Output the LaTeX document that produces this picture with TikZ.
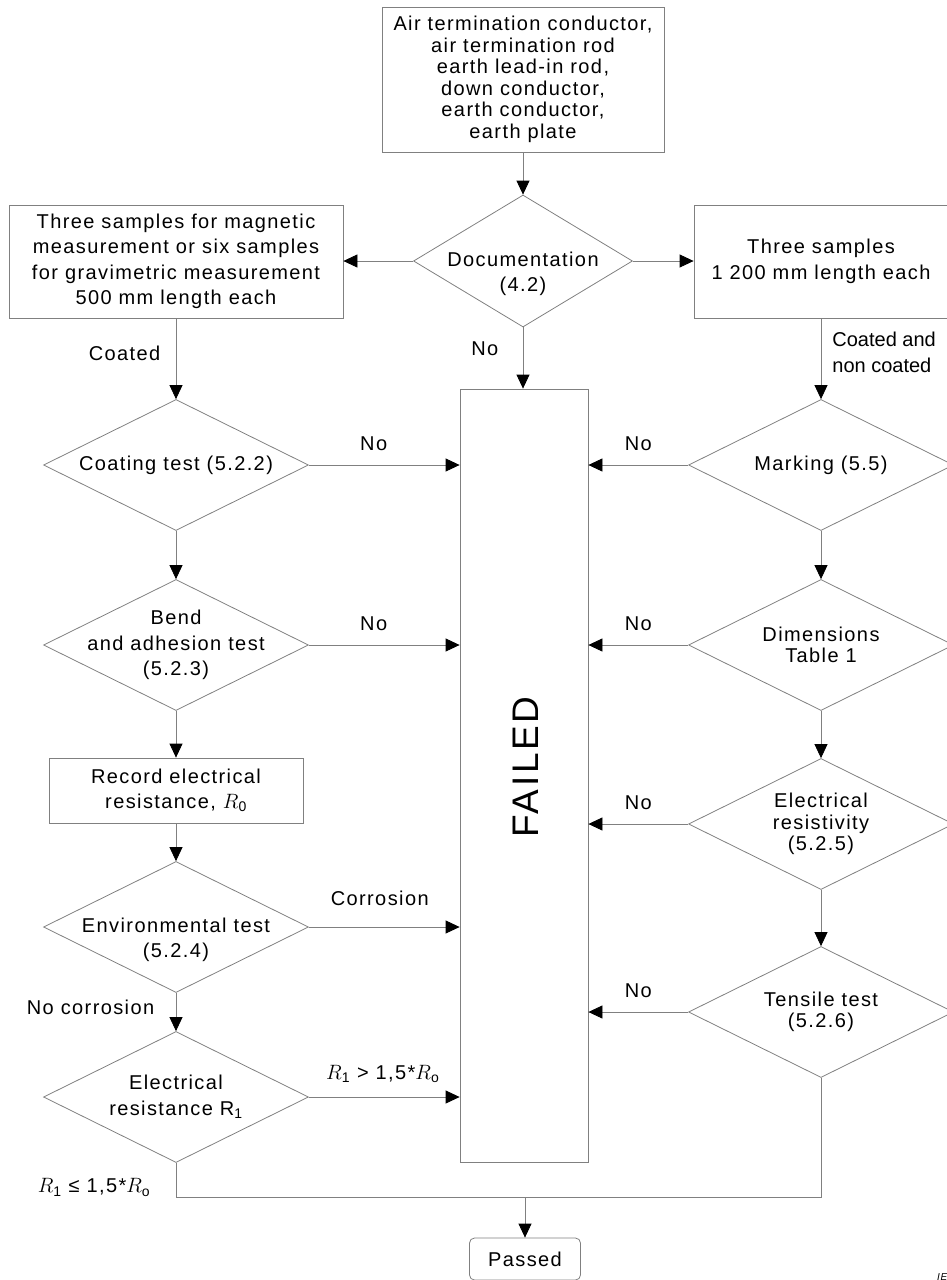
\documentclass[tikz,border=0pt]{standalone}
\usepackage{fontspec}
\setmainfont[LetterSpace=7]{Liberation Sans}
\newfontfamily\plainsf{Liberation Sans}
\usetikzlibrary{shapes.geometric,arrows.meta}
\tikzstyle{wide}=[font=\fontsize{20}{25.5}\selectfont]
\tikzstyle{tight}=[font=\fontsize{20}{21.5}\selectfont]
\tikzstyle{box}=[rectangle,draw=black!50,line width=0.8pt,inner sep=0pt,align=center]
\tikzstyle{test}=[diamond,draw=black!50,line width=0.8pt,inner sep=0pt,minimum width=265pt,minimum height=131pt]
\tikzstyle{txt}=[align=center,inner sep=0pt]
\tikzstyle{edge}=[draw=black!50,line width=0.8pt]
\tikzstyle{arrow}=[edge,-{Triangle[length=14pt,width=13pt,color=black]}]

\begin{document}
\begin{tikzpicture}[x=1pt,y=-1pt,wide]
    \useasboundingbox (0,0) rectangle (946,1280);
    % boites
    \node[box,tight,minimum width=282pt,minimum height=145pt] (top) at (523,79.5) {Air termination conductor,\\air termination rod\\earth lead-in rod,\\down conductor,\\earth conductor,\\earth plate};
    \node[box,minimum width=334pt,minimum height=113pt] (lbox) at (176,261.5) {Three samples for magnetic\\measurement or six samples\\for gravimetric measurement\\500 mm length each};
    \node[box,minimum width=254pt,minimum height=113pt] (rbox) at (821,261.5) {Three samples\\1 200 mm length each};
    \node[box,minimum width=254pt,minimum height=65pt] (rec) at (176,790.5) {Record electrical\\resistance, $R$\textsubscript{0}};
    \node[box,minimum width=128pt,minimum height=773pt] (fail) at (524,775.5) {};
    \node[rotate=90,inner sep=0pt,font=\fontsize{37}{40}\selectfont] (fail-t) at (526,767) {FAILED};
    \node[box,rounded corners=5pt,minimum width=111pt,minimum height=42pt] (pass) at (525,1259) {Passed};
    \node[inner sep=0pt,anchor=south west,font=\fontsize{10}{12}\selectfont\itshape] (iec) at (937,1281) {IEC};
    % tests
    \node[test,minimum width=219pt,minimum height=132pt] (doc) at (523,261) {};
    \node[txt] (doc-t) at ([yshift=-13pt]doc) {Documentation\\(4.2)};
    \foreach \pos/\name/\dy/\txt in {{(176,465)/coat/0/{Coating test (5.2.2)}}, {(176,645)/bend/0/{Bend\\and adhesion test\\(5.2.3)}}, {(176,927)/env/13/{Environmental test\\(5.2.4)}}, {(176,1097)/res/0/{Electrical\\resistance R\textsubscript{1}}}}
        {\node[test] (\name) at \pos {};
         \node[txt] (\name-t) at ([yshift=-\dy pt]\name) {\txt};}
    \foreach \pos/\name/\txt in {{(821,465)/mark/{Marking (5.5)}}, {(821,645)/dim/{Dimensions\\Table 1}}, {(821,824)/resv/{Electrical\\resistivity\\(5.2.5)}}, {(821,1012)/tens/{Tensile test\\(5.2.6)}}}
        {\node[test] (\name) at \pos {};
         \node[txt,tight] (\name-t) at (\name) {\txt};}
    % fleches
    \draw[arrow] (top.south) -- (doc.north);
    \draw[arrow] (doc.west) -- (doc.west -| lbox.east);
    \draw[arrow] (doc.east) -- (doc.east -| rbox.west);
    \draw[arrow] (doc.south) -- node[pos=0.35,left=21pt] {No} (doc.south |- fail.north);
    \draw[arrow] (lbox.south) -- node[pos=0.43,left=12pt] {Coated} (coat.north);
    \draw[arrow] (rbox.south) -- node[pos=0.42,right=11pt,align=left,inner sep=0pt,font=\plainsf\fontsize{20}{26}\selectfont] {Coated and\\non coated} (mark.north);
    \foreach \source/\dest in {coat/bend, bend/rec, rec/env, mark/dim, dim/resv, resv/tens}
        \draw[arrow] (\source.south) -- (\dest.north);
    \draw[arrow] (env.south) -- node[pos=0.38,left=18pt] {No corrosion} (res.north);
    \foreach \name in {coat, bend}
        \draw[arrow] (\name.east) -- node[pos=0.43,above=11pt] {No} (\name.east -| fail.west);
    \foreach \name in {mark, dim, resv, tens}
        \draw[arrow] (\name.west) -- node[midway,above=11pt] {No} (\name.west -| fail.east);
    \draw[arrow] (env.east) -- node[pos=0.47,above=18pt] {Corrosion} (env.east -| fail.west);
    \draw[arrow] (res.east) -- node[pos=0.49,above=11pt] {$R$\textsubscript{1} > 1,5*$R$\textsubscript{o}} (res.east -| fail.west);
    \coordinate (join) at (525,1197);
    \draw[edge] (res.south) |- node[pos=0.36,left=22pt] {$R$\textsubscript{1} ≤ 1,5*$R$\textsubscript{o}} (join) -| (tens.south);
    \draw[arrow] (join) -- (pass.north);
\end{tikzpicture}
\end{document}
